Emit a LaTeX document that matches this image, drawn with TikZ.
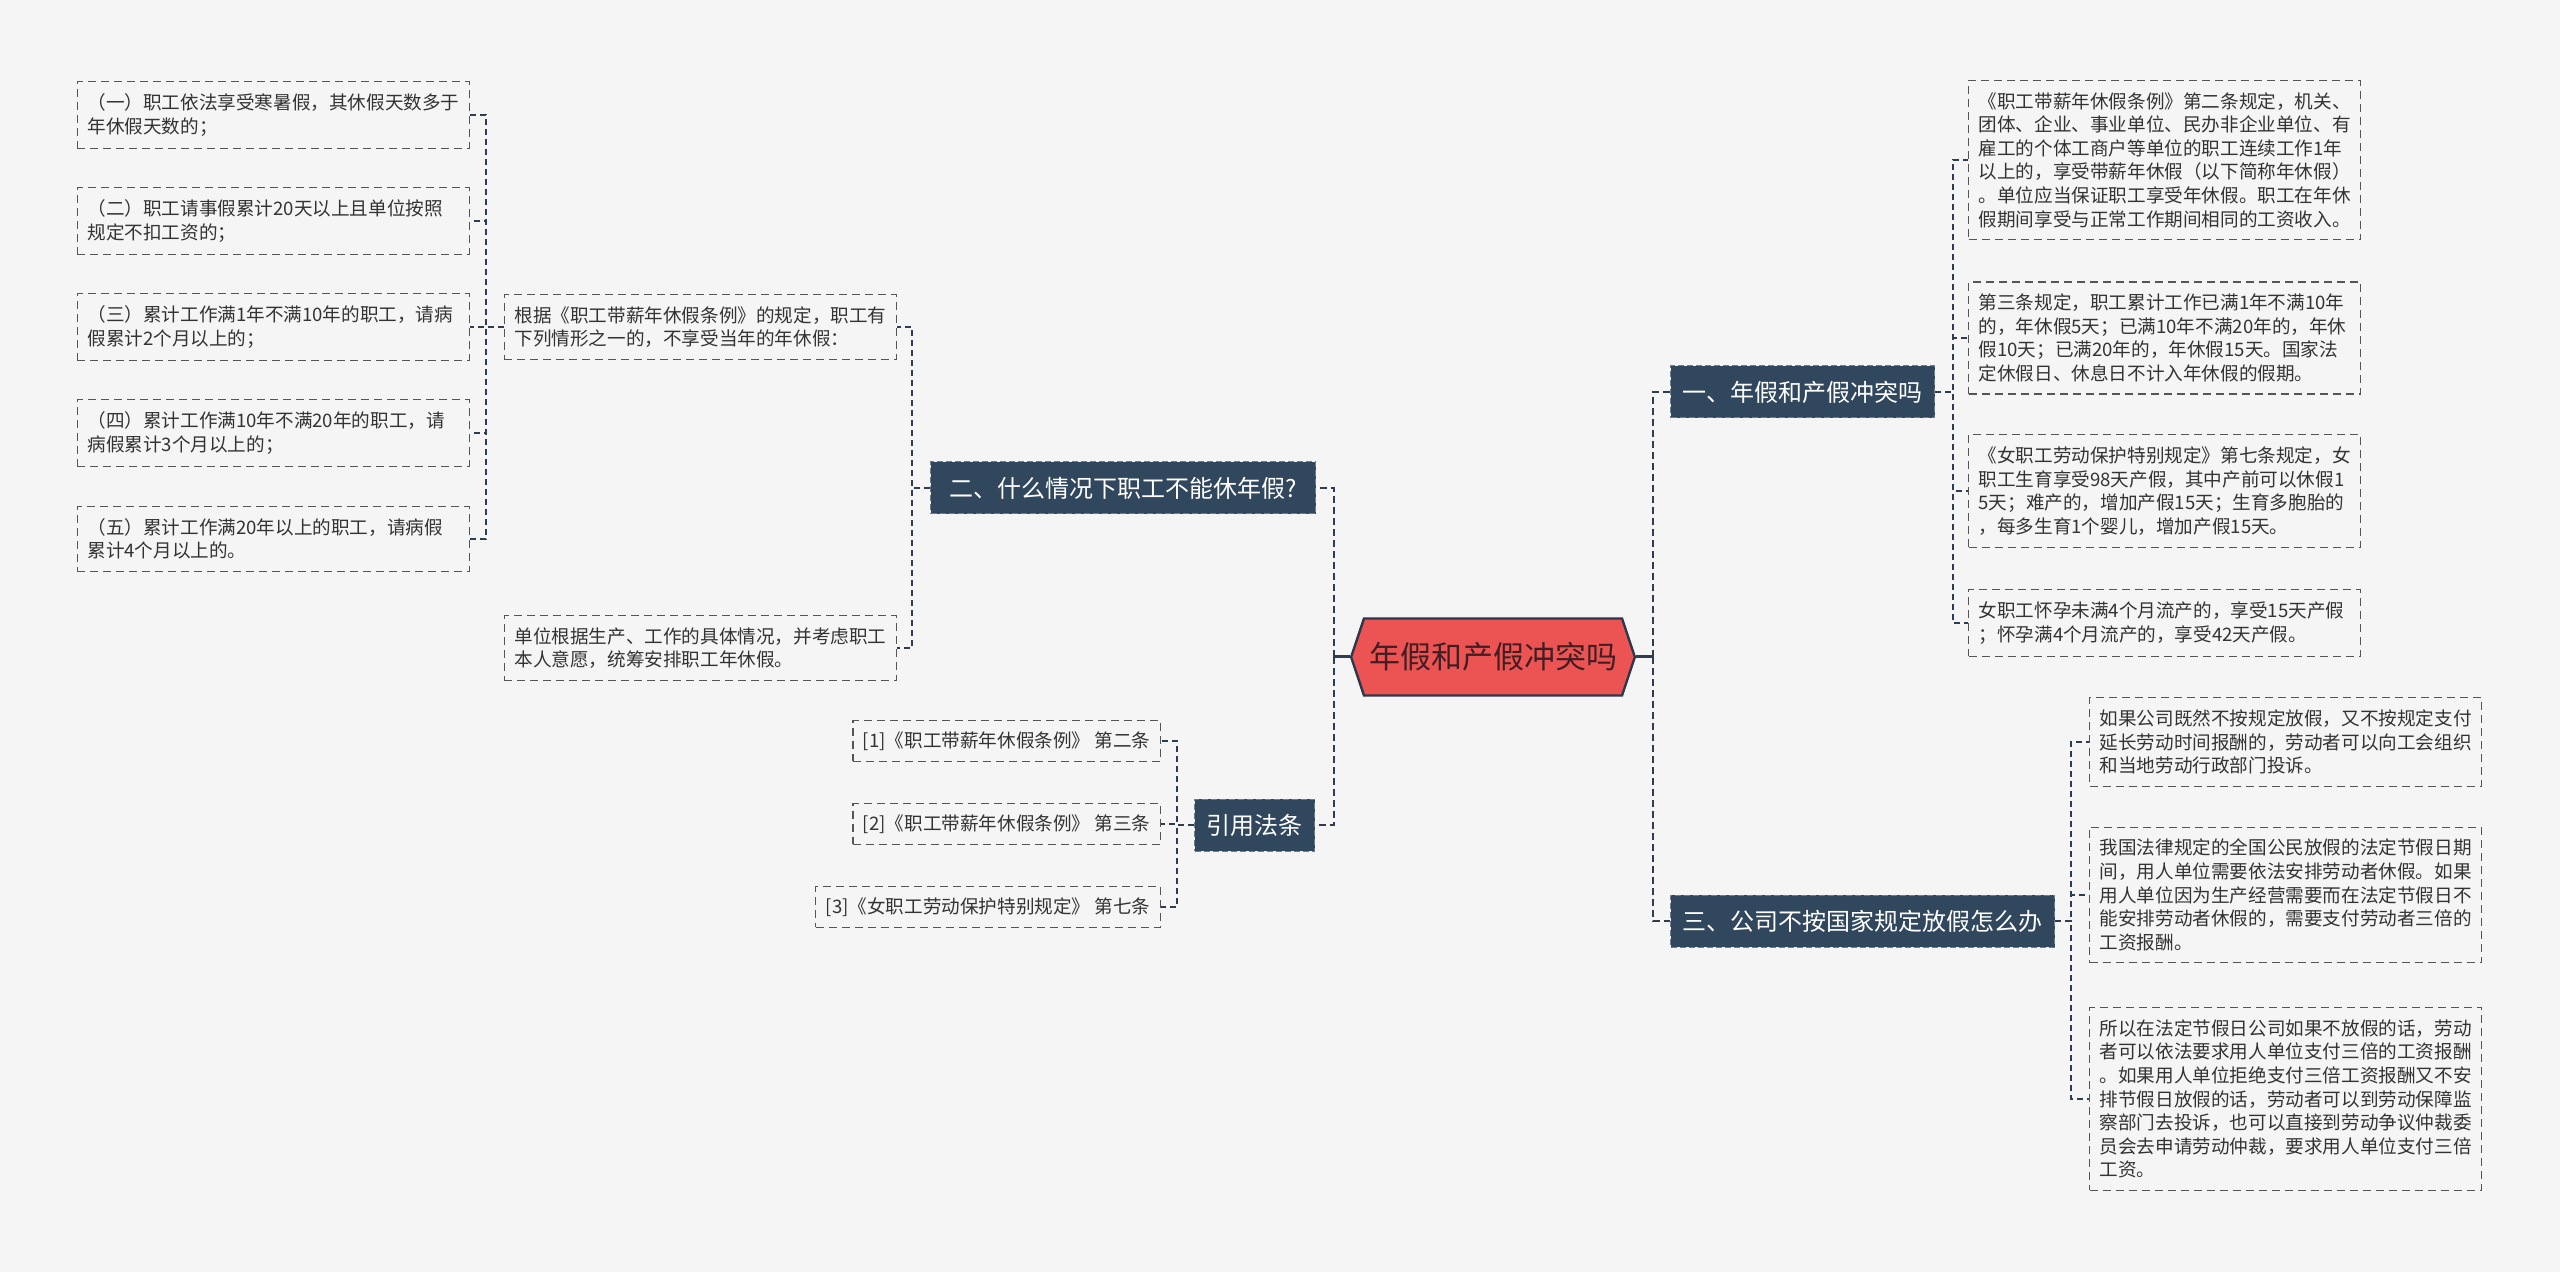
\documentclass[tikz,border=0pt]{standalone}
\usepackage{fontspec}
\setmainfont{Noto Sans CJK SC}
\usetikzlibrary{shapes.symbols,positioning}
\definecolor{pagebg}{RGB}{245,245,245}
\definecolor{navy}{RGB}{48,71,94}
\definecolor{navyedge}{RGB}{110,125,140}
\definecolor{hexred}{RGB}{236,84,84}
\definecolor{hexedge}{RGB}{44,56,76}
\definecolor{linkcol}{RGB}{46,61,80}
\definecolor{boxedge}{RGB}{85,85,85}
\definecolor{bodytext}{RGB}{51,51,51}
\definecolor{roottext}{RGB}{66,30,34}

\tikzset{
  topic/.style={fill=navy, draw=navyedge, dash pattern=on 3pt off 1.5pt, line width=0.5pt,
    text=white, font=\fontsize{12pt}{14pt}\selectfont, inner xsep=6pt, minimum height=26pt},
  notebase/.style={draw=boxedge, dash pattern=on 4pt off 2.5pt, line width=0.6pt,
    text=bodytext, font=\fontsize{9.3pt}{11.8pt}\selectfont, align=left, inner xsep=5pt, inner ysep=6pt},
  detail/.style={notebase, text width=186pt},
  cite/.style={notebase, inner ysep=5.5pt},
  link/.style={draw=linkcol, line width=0.9pt, dash pattern=on 3pt off 2pt},
  rootlink/.style={draw=linkcol, line width=1.3pt, dash pattern=on 3.5pt off 2pt}
}

\begin{document}
\begin{tikzpicture}[x=0.5pt, y=-0.5pt]
  \fill[pagebg] (0,0) rectangle (2560,1272);
  \useasboundingbox (0,0) rectangle (2560,1272);

  \node[signal, signal to=east and west, signal pointer angle=143, fill=hexred, draw=hexedge,
    line width=1.2pt, text=roottext, font=\fontsize{15.5pt}{18pt}\selectfont,
    inner xsep=2.5pt, minimum height=38.5pt] (root) at (1493,657) {年假和产假冲突吗};

  \node[topic, anchor=west] (t1) at (1670,392) {一、年假和产假冲突吗};
  \node[topic, anchor=east, minimum width=192.5pt] (t2) at (1316,488) {二、什么情况下职工不能休年假?};
  \node[topic, anchor=east] (t3) at (1315,825) {引用法条};
  \node[topic, anchor=west] (t4) at (1670,921) {三、公司不按国家规定放假怎么办};

  \node[detail, anchor=west] (a1) at (1968,160) {《职工带薪年休假条例》第二条规定，机关、\\团体、企业、事业单位、民办非企业单位、有\\雇工的个体工商户等单位的职工连续工作1年\\以上的，享受带薪年休假（以下简称年休假）\\。单位应当保证职工享受年休假。职工在年休\\假期间享受与正常工作期间相同的工资收入。};
  \node[detail, anchor=west] (a2) at (1968,338) {第三条规定，职工累计工作已满1年不满10年\\的，年休假5天；已满10年不满20年的，年休\\假10天；已满20年的，年休假15天。国家法\\定休假日、休息日不计入年休假的假期。};
  \node[detail, anchor=west] (a3) at (1968,491) {《女职工劳动保护特别规定》第七条规定，女\\职工生育享受98天产假，其中产前可以休假1\\5天；难产的，增加产假15天；生育多胞胎的\\，每多生育1个婴儿，增加产假15天。};
  \node[detail, anchor=west] (a4) at (1968,623) {女职工怀孕未满4个月流产的，享受15天产假\\；怀孕满4个月流产的，享受42天产假。};

  \node[detail, anchor=east] (b1) at (897,327) {根据《职工带薪年休假条例》的规定，职工有\\下列情形之一的，不享受当年的年休假：};
  \node[detail, anchor=east] (b2) at (897,648) {单位根据生产、工作的具体情况，并考虑职工\\本人意愿，统筹安排职工年休假。};

  \node[detail, anchor=east] (d1) at (470,115) {（一）职工依法享受寒暑假，其休假天数多于\\年休假天数的；};
  \node[detail, anchor=east] (d2) at (470,221) {（二）职工请事假累计20天以上且单位按照\\规定不扣工资的；};
  \node[detail, anchor=east] (d3) at (470,327) {（三）累计工作满1年不满10年的职工，请病\\假累计2个月以上的；};
  \node[detail, anchor=east] (d4) at (470,433) {（四）累计工作满10年不满20年的职工，请\\病假累计3个月以上的；};
  \node[detail, anchor=east] (d5) at (470,539) {（五）累计工作满20年以上的职工，请病假\\累计4个月以上的。};

  \node[cite, anchor=east] (e1) at (1161,741) {[1]《职工带薪年休假条例》 第二条};
  \node[cite, anchor=east] (e2) at (1161,824) {[2]《职工带薪年休假条例》 第三条};
  \node[cite, anchor=east] (e3) at (1161,907) {[3]《女职工劳动保护特别规定》 第七条};

  \node[detail, anchor=west] (c1) at (2089,742) {如果公司既然不按规定放假，又不按规定支付\\延长劳动时间报酬的，劳动者可以向工会组织\\和当地劳动行政部门投诉。};
  \node[detail, anchor=west] (c2) at (2089,895) {我国法律规定的全国公民放假的法定节假日期\\间，用人单位需要依法安排劳动者休假。如果\\用人单位因为生产经营需要而在法定节假日不\\能安排劳动者休假的，需要支付劳动者三倍的\\工资报酬。};
  \node[detail, anchor=west] (c3) at (2089,1099) {所以在法定节假日公司如果不放假的话，劳动\\者可以依法要求用人单位支付三倍的工资报酬\\。如果用人单位拒绝支付三倍工资报酬又不安\\排节假日放假的话，劳动者可以到劳动保障监\\察部门去投诉，也可以直接到劳动争议仲裁委\\员会去申请劳动仲裁，要求用人单位支付三倍\\工资。};

  \draw[linkcol, line width=1.5pt] (root.east) -- ++(17,0) coordinate (rj);
  \draw[linkcol, line width=1.5pt] (root.west) -- ++(-16,0) coordinate (lj);
  \foreach \t in {t1,t4} \draw[rootlink] (rj) |- (\t.west);
  \foreach \t in {t2,t3} \draw[rootlink] (lj) |- (\t.east);

  \foreach \c in {a1,a2,a3,a4} \draw[link] (t1.east) -- ++(18,0) |- (\c.west);
  \foreach \c in {c1,c2,c3} \draw[link] (t4.east) -- ++(16,0) |- (\c.west);
  \foreach \c in {b1,b2} \draw[link] (t2.west) -- ++(-18,0) |- (\c.east);
  \foreach \c in {e1,e2,e3} \draw[link] (t3.west) -- ++(-17,0) |- (\c.east);
  \foreach \c in {d1,d2,d3,d4,d5} \draw[link] (b1.west) -- ++(-18,0) |- (\c.east);
\end{tikzpicture}
\end{document}
